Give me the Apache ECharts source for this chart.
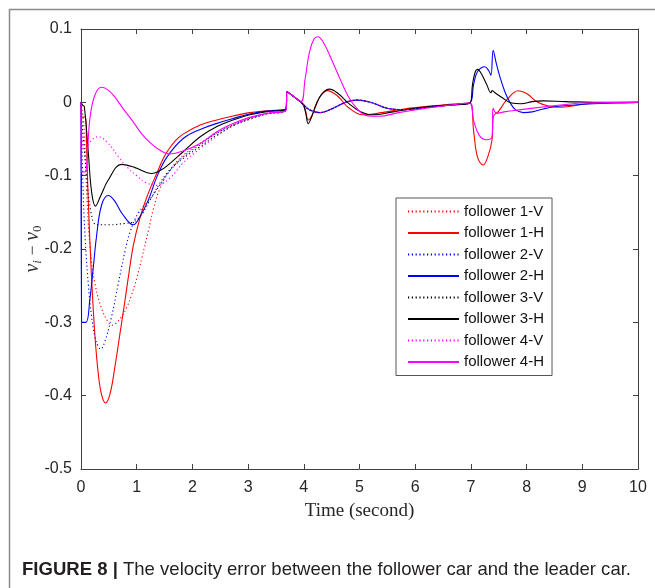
<!DOCTYPE html>
<html>
<head>
<meta charset="utf-8">
<script src="https://cdn.jsdelivr.net/npm/echarts@6/dist/echarts.min.js"></script>
<style>
html,body{margin:0;padding:0;background:#fff;}
#chart{width:655px;height:588px;}
</style>
</head>
<body>
<div id="chart"></div>
<script>
// ---- tick labels ----
const xTickLabels = ['0','1','2','3','4','5','6','7','8','9','10'];
const yTickLabels = ['-0.5','-0.4','-0.3','-0.2','-0.1','0','0.1'];
const seriesNames = ['follower 1-V','follower 1-H','follower 2-V','follower 2-H','follower 3-V','follower 3-H','follower 4-V','follower 4-H'];
const captionBold = 'FIGURE 8 |';
const captionText = ' The velocity error between the follower car and the leader car.';

// ---- shared tail of the V curves (after t = 3.7) ----
const tVtail = [3.70,3.85,3.95,4.10,4.29,4.50,4.75,4.96,5.20,5.50,5.80,6.20,6.60,6.98];
const vVtail = [0.0145,0.006,0.0,-0.010,-0.014,-0.009,0.0,0.003,0.0,-0.008,-0.010,-0.007,-0.004,-0.001];

// ---- follower 1-V (red dotted) ----
const t1V = [0,0.05,0.10,0.16,0.25,0.37,0.49,0.55,0.63,0.73,0.82,0.91,1.00,1.09,1.21,1.30,1.42,1.60,1.84,2.14,2.44,2.73,3.03,3.33,3.68];
const v1V = [0,-0.03,-0.12,-0.195,-0.247,-0.281,-0.300,-0.304,-0.301,-0.292,-0.280,-0.262,-0.240,-0.213,-0.175,-0.145,-0.117,-0.092,-0.072,-0.056,-0.0415,-0.031,-0.022,-0.015,-0.0105];

// ---- follower 1-H (red solid) ----
const t1H = [0,0.01,0.08,0.10,0.13,0.19,0.25,0.31,0.37,0.44,0.52,0.61,0.70,0.79,0.87,0.94,1.05,1.15,1.25,1.36,1.45,1.54,1.70,1.84,2.14,2.44,2.73,3.03,3.33,3.68,
             3.70,3.85,3.98,4.03,4.08,4.14,4.22,4.30,4.42,4.60,4.80,5.06,5.40,5.80,6.30,6.98,
             7.05,7.12,7.22,7.30,7.38,7.40,7.50,7.65,7.85,8.00,8.20,8.40,8.60,8.90,9.20,10];
const v1H = [0,-0.02,-0.02,-0.06,-0.133,-0.240,-0.318,-0.370,-0.399,-0.410,-0.398,-0.360,-0.315,-0.270,-0.228,-0.195,-0.160,-0.136,-0.116,-0.097,-0.081,-0.068,-0.052,-0.043,-0.031,-0.024,-0.0187,-0.014,-0.0115,-0.009,
             0.0145,0.006,-0.002,-0.011,-0.024,-0.019,-0.004,0.009,0.016,0.009,-0.007,-0.017,-0.014,-0.009,-0.005,-0.001,
             -0.040,-0.075,-0.0855,-0.075,-0.051,-0.020,-0.012,0.004,0.0158,0.012,0.0,-0.005,-0.0068,-0.004,-0.001,0];

// ---- follower 2-V (blue dotted) ----
const t2V = [0,0.03,0.07,0.13,0.19,0.25,0.31,0.35,0.43,0.55,0.67,0.79,0.88,1.03,1.24,1.36,1.60,1.84,2.14,2.44,2.73,3.03,3.33,3.68];
const v2V = [0,-0.10,-0.179,-0.247,-0.292,-0.320,-0.333,-0.3366,-0.326,-0.292,-0.247,-0.203,-0.177,-0.151,-0.132,-0.119,-0.093,-0.074,-0.058,-0.042,-0.031,-0.022,-0.0155,-0.0105];

// ---- follower 2-H (blue solid) ----
const t2H = [0,0.01,0.09,0.16,0.22,0.28,0.37,0.49,0.60,0.75,0.94,1.05,1.21,1.36,1.54,1.84,2.14,2.44,2.73,3.03,3.33,3.68,
             3.70,3.85,3.95,4.10,4.29,4.50,4.75,4.96,5.20,5.50,5.80,6.20,6.60,6.98,
             7.05,7.12,7.25,7.32,7.36,7.40,7.45,7.52,7.61,7.70,7.80,7.94,8.10,8.30,8.51,8.80,9.20,9.60,10];
const v2H = [0,-0.30,-0.30,-0.268,-0.226,-0.182,-0.140,-0.127,-0.134,-0.153,-0.167,-0.157,-0.133,-0.102,-0.075,-0.049,-0.037,-0.0287,-0.022,-0.016,-0.012,-0.0092,
             0.0145,0.006,0.0,-0.010,-0.014,-0.009,0.0,0.003,0.0,-0.008,-0.010,-0.007,-0.004,-0.001,
             0.025,0.042,0.0486,0.043,0.037,0.071,0.055,0.035,0.0145,0.0,-0.010,-0.014,-0.013,-0.009,-0.006,-0.004,-0.002,-0.001,0];

// ---- follower 3-V (black dotted) ----
const t3V = [0,0.03,0.05,0.10,0.18,0.28,0.50,0.80,0.94,1.02,1.10,1.17,1.24,1.54,1.84,2.14,2.44,2.73,3.03,3.33,3.68];
const v3V = [0,-0.04,-0.056,-0.100,-0.150,-0.167,-0.167,-0.165,-0.163,-0.159,-0.152,-0.143,-0.133,-0.097,-0.076,-0.0605,-0.0446,-0.032,-0.023,-0.016,-0.0105];

// ---- follower 3-H (black solid) ----
const t3H = [0,0.03,0.06,0.13,0.19,0.26,0.35,0.49,0.73,0.97,1.27,1.42,1.54,1.84,2.14,2.44,2.73,3.03,3.33,3.68,
             3.70,3.85,3.98,4.03,4.08,4.14,4.22,4.32,4.46,4.60,4.80,5.00,5.24,5.60,6.00,6.50,6.98,
             7.03,7.08,7.12,7.18,7.28,7.36,7.38,7.45,7.55,7.73,7.90,8.10,8.30,8.70,9.20,10];
const v3H = [0,-0.004,-0.006,-0.067,-0.122,-0.1415,-0.128,-0.106,-0.0846,-0.089,-0.097,-0.093,-0.087,-0.067,-0.047,-0.033,-0.024,-0.017,-0.0128,-0.0096,
             0.0145,0.006,-0.002,-0.013,-0.029,-0.020,-0.003,0.011,0.018,0.013,-0.001,-0.012,-0.017,-0.013,-0.008,-0.004,-0.001,
             0.025,0.042,0.045,0.040,0.025,0.013,0.016,0.012,0.007,-0.001,-0.002,0.001,0.002,0.001,0.0,0];

// ---- follower 4-V (magenta dotted) ----
const t4V = [0,0.03,0.07,0.15,0.31,0.49,0.67,0.85,1.00,1.15,1.36,1.60,1.84,2.14,2.44,2.73,3.03,3.33,3.68];
const v4V = [0,-0.060,-0.067,-0.055,-0.047,-0.056,-0.074,-0.090,-0.100,-0.109,-0.113,-0.103,-0.082,-0.063,-0.046,-0.032,-0.023,-0.016,-0.0105];

// ---- follower 4-H (magenta solid) ----
const t4H = [0,0.005,0.07,0.16,0.25,0.37,0.50,0.61,0.75,0.94,1.09,1.24,1.39,1.60,1.81,2.14,2.44,2.73,3.03,3.33,3.68,
             3.70,3.80,3.95,4.02,4.10,4.18,4.25,4.35,4.50,4.65,4.80,4.95,5.15,5.35,5.70,6.20,6.60,6.98,
             7.05,7.15,7.28,7.38,7.40,7.46,7.60,7.90,8.33,8.70,9.00,10];
const v4H = [0,-0.095,-0.095,-0.022,0.010,0.0205,0.016,0.007,-0.008,-0.027,-0.043,-0.055,-0.064,-0.0705,-0.067,-0.056,-0.040,-0.029,-0.0205,-0.015,-0.0105,
             0.0145,0.009,0.001,0.030,0.068,0.086,0.0895,0.082,0.058,0.032,0.008,-0.008,-0.0185,-0.019,-0.014,-0.008,-0.004,-0.001,
             -0.025,-0.045,-0.051,-0.047,-0.008,-0.015,-0.013,-0.010,-0.006,-0.003,-0.001,0];

function zip(t, v) { return t.map((x, i) => [x, v[i]]); }
function withTail(t, v) { return zip(t.concat(tVtail), v.concat(vVtail)); }

const dot = [1.2, 2.6];
const specs = [
  {name: seriesNames[0], color: '#ff0000', type: dot, data: withTail(t1V, v1V)},
  {name: seriesNames[1], color: '#ff0000', type: 'solid', data: zip(t1H, v1H)},
  {name: seriesNames[2], color: '#0000ff', type: dot, data: withTail(t2V, v2V)},
  {name: seriesNames[3], color: '#0000ff', type: 'solid', data: zip(t2H, v2H)},
  {name: seriesNames[4], color: '#000000', type: dot, data: withTail(t3V, v3V)},
  {name: seriesNames[5], color: '#000000', type: 'solid', data: zip(t3H, v3H)},
  {name: seriesNames[6], color: '#ff00ff', type: dot, data: withTail(t4V, v4V)},
  {name: seriesNames[7], color: '#ff00ff', type: 'solid', data: zip(t4H, v4H)}
];

const axisColor = '#404040';
const labelFont = 'Liberation Sans, Arial, sans-serif';

// caption: fit the text into the reference width with a horizontal scale
const capSize = 19;
const mctx = document.createElement('canvas').getContext('2d');
mctx.font = 'bold ' + capSize + 'px "Liberation Sans"';
const wBold = mctx.measureText(captionBold).width;
mctx.font = capSize + 'px "Liberation Sans"';
const wNorm = mctx.measureText(captionText).width;
const capScale = 609 / (wBold + wNorm);

const chart = echarts.init(document.getElementById('chart'), null, {renderer: 'canvas'});
chart.setOption({
  animation: false,
  backgroundColor: '#ffffff',
  grid: {left: 81, right: 17, top: 29, bottom: 119, containLabel: false},
  xAxis: [{
    type: 'value', min: 0, max: 10, interval: 1, position: 'bottom',
    axisLine: {show: true, onZero: false, lineStyle: {color: axisColor, width: 1}},
    axisTick: {show: true, inside: true, length: 5, lineStyle: {color: axisColor}},
    axisLabel: {margin: 11, fontSize: 16, color: '#262626', fontFamily: labelFont,
      formatter: v => xTickLabels[Math.round(v)]},
    splitLine: {show: false},
    name: 'Time (second)', nameLocation: 'middle', nameGap: 33,
    nameTextStyle: {fontFamily: 'Liberation Serif, Times New Roman, serif', fontSize: 19, color: '#262626', verticalAlign: 'top'}
  }, {
    type: 'value', min: 0, max: 10, interval: 1, position: 'top',
    axisLine: {show: true, onZero: false, lineStyle: {color: axisColor, width: 1}},
    axisTick: {show: true, inside: true, length: 5, lineStyle: {color: axisColor}},
    axisLabel: {show: false}, splitLine: {show: false}
  }],
  yAxis: [{
    type: 'value', min: -0.5, max: 0.1, interval: 0.1, position: 'left',
    axisLine: {show: true, onZero: false, lineStyle: {color: axisColor, width: 1}},
    axisTick: {show: true, inside: true, length: 5, lineStyle: {color: axisColor}},
    axisLabel: {margin: 9, fontSize: 16, color: '#262626', fontFamily: labelFont,
      formatter: v => yTickLabels[Math.round((v + 0.5) * 10)]},
    splitLine: {show: false}
  }, {
    type: 'value', min: -0.5, max: 0.1, interval: 0.1, position: 'right',
    axisLine: {show: true, onZero: false, lineStyle: {color: axisColor, width: 1}},
    axisTick: {show: true, inside: true, length: 5, lineStyle: {color: axisColor}},
    axisLabel: {show: false}, splitLine: {show: false}
  }],
  legend: {
    orient: 'vertical', left: 396, top: 198,
    padding: [6, 8, 6, 11], itemGap: 6.5, itemWidth: 51, itemHeight: 14,
    borderColor: '#555555', borderWidth: 1, backgroundColor: '#ffffff',
    itemStyle: {opacity: 0},
    textStyle: {fontSize: 15, color: '#111111', fontFamily: labelFont},
    data: seriesNames
  },
  series: specs.map(s => ({
    name: s.name, type: 'line', xAxisIndex: 0, yAxisIndex: 0,
    data: s.data, showSymbol: false, symbol: 'none',
    smooth: 0.4,
    lineStyle: {color: s.color, width: 1.1, type: s.type},
    itemStyle: {color: s.color}
  })),
  graphic: [
    {type: 'rect', left: 7, top: 7, silent: true,
      shape: {x: 0, y: 0, width: 720, height: 700},
      style: {fill: 'none', stroke: '#8a8a8a', lineWidth: 1.5}},
    {type: 'text', x: 33, y: 249, rotation: Math.PI / 2, silent: true,
      style: {
        text: '{v|v}{s|i}{m| − }{v|v}{z|0}',
        align: 'center', verticalAlign: 'middle',
        rich: {
          v: {fontFamily: 'Liberation Serif, serif', fontStyle: 'italic', fontSize: 20, lineHeight: 22, fill: '#333', verticalAlign: 'middle'},
          s: {fontFamily: 'Liberation Serif, serif', fontStyle: 'italic', fontSize: 13, lineHeight: 22, fill: '#333', verticalAlign: 'bottom'},
          z: {fontFamily: 'Liberation Serif, serif', fontSize: 13, lineHeight: 22, fill: '#333', verticalAlign: 'bottom'},
          m: {fontFamily: 'Liberation Serif, serif', fontSize: 18, lineHeight: 22, fill: '#333', verticalAlign: 'middle'}
        }
      }},
    {type: 'text', x: 22, y: 570, scaleX: capScale, silent: true,
      style: {
        text: '{b|' + captionBold + '}{n|' + captionText + '}',
        verticalAlign: 'middle',
        rich: {
          b: {fontFamily: 'Liberation Sans', fontWeight: 'bold', fontSize: capSize, fill: '#231f20'},
          n: {fontFamily: 'Liberation Sans', fontSize: capSize, fill: '#231f20'}
        }
      }}
  ]
});
</script>
</body>
</html>
